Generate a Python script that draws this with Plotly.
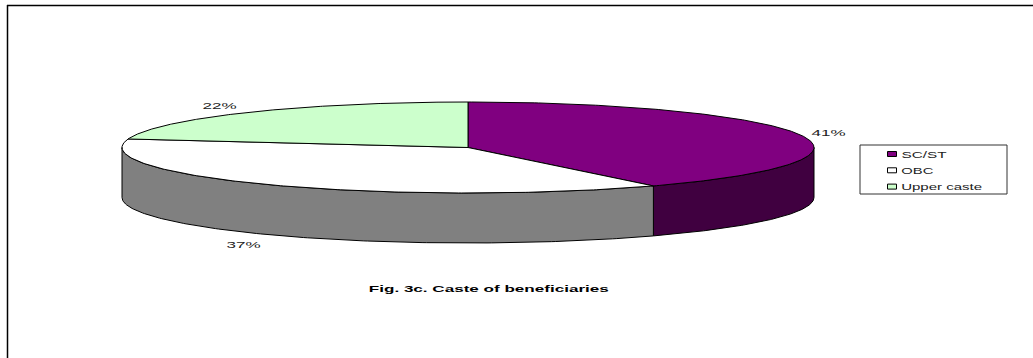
import json

import numpy as np
import plotly.graph_objects as go

# Caste shares, clockwise from twelve o'clock
categories = ["SC/ST", "OBC", "Upper caste"]
shares = [41, 37, 22]
top_colors = ["#800080", "#FFFFFF", "#CCFFCC"]
wall_colors = ["#400040", "#808080", "#669966"]
title_text = "Fig. 3c. Caste of beneficiaries"

WIDTH, HEIGHT = 1033, 358
CX, CY, RX, RY, DEPTH = 468, 147.5, 346, 45.5, 50

# Rendered width of each text, in pixels
text_widths = {
    "41%": 34, "37%": 34, "22%": 34,
    "SC/ST": 45, "OBC": 32, "Upper caste": 81,
    title_text: 240,
}


def rim(theta):
    """Point on the top ellipse; theta runs clockwise from the top, in radians."""
    return CX + RX * np.sin(theta), CY - RY * np.cos(theta)


fig = go.Figure()

fractions = np.array(shares) / sum(shares)
edges = np.concatenate([[0], np.cumsum(fractions)]) * 2 * np.pi

# Chart frame: top and left rules only
frame = dict(color="#000000", width=1.5)
fig.add_shape(type="line", x0=7, y0=5.5, x1=WIDTH, y1=5.5, line=frame)
fig.add_shape(type="line", x0=7.5, y0=5, x1=7.5, y1=HEIGHT, line=frame)

# Side walls: only the part of each slice facing the viewer (theta between 90 and 270 degrees)
for start, end, color in zip(edges[:-1], edges[1:], wall_colors):
    a, b = max(start, np.pi / 2), min(end, 3 * np.pi / 2)
    if a >= b:
        continue
    t = np.linspace(a, b, 160)
    x, y = rim(t)
    fig.add_trace(go.Scatter(
        x=np.concatenate([x, x[::-1], x[:1]]),
        y=np.concatenate([y, y[::-1] + DEPTH, y[:1]]),
        mode="lines", fill="toself", fillcolor=color,
        line=dict(color="#000000", width=1), hoverinfo="skip", showlegend=False,
    ))

# Top faces of the slices
for start, end, color, name in zip(edges[:-1], edges[1:], top_colors, categories):
    t = np.linspace(start, end, 240)
    x, y = rim(t)
    fig.add_trace(go.Scatter(
        x=np.concatenate([[CX], x, [CX]]),
        y=np.concatenate([[CY], y, [CY]]),
        mode="lines", fill="toself", fillcolor=color,
        line=dict(color="#000000", width=1), name=name, showlegend=False,
    ))

# Percentage labels beside the slices
label_offsets = [(29, -2), (-29.5, 59), (-27.6, -7)]
label_font = dict(family="Liberation Sans", size=9.5, color="#222222")
for share, start, end, (dx, dy) in zip(shares, edges[:-1], edges[1:], label_offsets):
    lx, ly = rim((start + end) / 2)
    fig.add_annotation(x=lx + dx, y=ly + dy, text=f"{share}%", showarrow=False, font=label_font,
                       xanchor="center", yanchor="middle")

# Legend box with its swatches and names
fig.add_shape(type="rect", x0=860, y0=145, x1=1007, y1=194, line=dict(color="#333333", width=1))
for i, (name, color) in enumerate(zip(categories, top_colors)):
    row_y = 154 + i * 16.3
    fig.add_shape(type="rect", x0=887.5, x1=896.5, y0=row_y - 2.5, y1=row_y + 2.5,
                  fillcolor=color, line=dict(color="#000000", width=1))
    fig.add_annotation(x=901 + text_widths[name] / 2, y=row_y, text=name, showarrow=False,
                       font=label_font, xanchor="center", yanchor="middle")

# Chart caption
fig.add_annotation(x=489, y=288, text=f"<b>{title_text}</b>", showarrow=False,
                   font=dict(family="Liberation Sans", size=9.5, color="#000000"),
                   xanchor="center", yanchor="middle")

fig.update_layout(
    width=WIDTH, height=HEIGHT, margin=dict(l=0, r=0, t=0, b=0),
    paper_bgcolor="#FFFFFF", plot_bgcolor="#FFFFFF", showlegend=False,
    xaxis=dict(range=[0, WIDTH], visible=False, fixedrange=True),
    yaxis=dict(range=[HEIGHT, 0], visible=False, fixedrange=True),
)

# The labels are set in a horizontally extended cut of the typeface
widen = """
var widths = %s;
document.querySelectorAll('.annotation-text').forEach(function (t) {
  t.setAttribute('textLength', widths[t.textContent]);
  t.setAttribute('lengthAdjust', 'spacingAndGlyphs');
});
""" % json.dumps(text_widths)
fig.write_html("out.html", post_script=widen, config=dict(displayModeBar=False))
